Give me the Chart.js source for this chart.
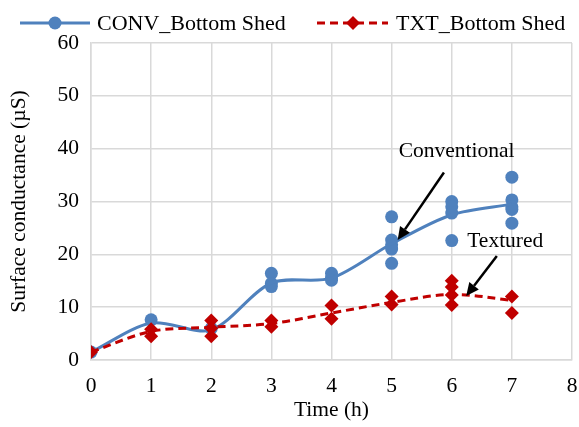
<!DOCTYPE html>
<html>
<head>
<meta charset="utf-8">
<script src="https://cdn.jsdelivr.net/npm/chart.js@4/dist/chart.umd.min.js"></script>
<style>
  html, body { margin: 0; padding: 0; background: #fff; }
  #wrap { width: 579px; height: 427px; }
</style>
</head>
<body>
<div id="wrap"><canvas id="c" width="579" height="427"></canvas></div>
<script>
// Exposure time (h)
const hours = [0, 1, 2, 3, 4, 5, 6, 7];
// Trend line values (µS)
const convMean = [1.5, 7.0, 5.7, 14.6, 15.5, 22.0, 27.5, 29.5];
const txtMean  = [1.5, 5.4, 6.2, 6.9, 8.9, 10.9, 12.4, 11.3];
// Individual measurements per hour (µS)
const convSamples = [
  [1.5],
  [7.6],
  [6.0],
  [16.4, 14.5, 13.9],
  [16.4, 15.5, 15.1],
  [27.1, 22.7, 21.8, 21.0, 18.3],
  [30.0, 29.0, 27.8, 22.6],
  [34.6, 30.3, 29.0, 28.5, 25.9]
];
const txtSamples = [
  [1.5],
  [5.8, 4.5],
  [7.5, 6.0, 4.5],
  [7.5, 6.3],
  [10.3, 7.8],
  [12.0, 10.5],
  [15.0, 13.8, 12.3, 10.4],
  [12.0, 8.9]
];
const xTicks = [0, 1, 2, 3, 4, 5, 6, 7, 8];
const yTicks = [0, 10, 20, 30, 40, 50, 60];
const seriesNames = ['CONV_Bottom Shed', 'TXT_Bottom Shed'];

const BLUE = '#4f81bd';
const RED = '#c00000';
const GRID = '#d9d9d9';
const FONT = '"Liberation Serif", "Times New Roman", serif';
const FS = 21.5;

function toPoints(xs, ys) { return xs.map((x, i) => ({ x: x, y: ys[i] })); }
function flatten(xs, groups) {
  const out = [];
  groups.forEach((g, i) => g.forEach(v => out.push({ x: xs[i], y: v })));
  return out;
}

// Legend drawn with line + marker samples
const legendPlugin = {
  id: 'lineLegend',
  afterDraw(chart) {
    const ctx = chart.ctx;
    const y = 23;
    ctx.save();
    // blue entry
    ctx.strokeStyle = BLUE; ctx.lineWidth = 3; ctx.setLineDash([]);
    ctx.beginPath(); ctx.moveTo(20, y); ctx.lineTo(90, y); ctx.stroke();
    ctx.fillStyle = BLUE;
    ctx.beginPath(); ctx.arc(55, y, 6.5, 0, Math.PI * 2); ctx.fill();
    // red entry
    ctx.strokeStyle = RED; ctx.setLineDash([8, 5]);
    ctx.beginPath(); ctx.moveTo(317, y); ctx.lineTo(388, y); ctx.stroke();
    ctx.setLineDash([]);
    ctx.fillStyle = RED;
    ctx.beginPath();
    ctx.moveTo(353, y - 7); ctx.lineTo(360, y); ctx.lineTo(353, y + 7); ctx.lineTo(346, y);
    ctx.closePath(); ctx.fill();
    ctx.fillStyle = '#000';
    ctx.font = '22px ' + FONT;
    ctx.textBaseline = 'middle';
    ctx.textAlign = 'left';
    ctx.fillText(seriesNames[0], 97, y + 1);
    ctx.fillText(seriesNames[1], 396, y + 1);
    ctx.restore();
  }
};

// Callout labels with arrows, placed in data coordinates
const callouts = [
  { text: 'Conventional', tx: 6.08, ty: 39.4, from: [5.87, 35.5], to: [5.10, 22.7] },
  { text: 'Textured',     tx: 6.89, ty: 22.4, from: [6.75, 19.7], to: [6.24, 12.1] }
];
const calloutPlugin = {
  id: 'callouts',
  afterDatasetsDraw(chart) {
    const ctx = chart.ctx, xs = chart.scales.x, ys = chart.scales.y;
    ctx.save();
    callouts.forEach(c => {
      ctx.fillStyle = '#000';
      ctx.font = FS + 'px ' + FONT;
      ctx.textAlign = 'center';
      ctx.textBaseline = 'middle';
      ctx.fillText(c.text, xs.getPixelForValue(c.tx), ys.getPixelForValue(c.ty));
      const x1 = xs.getPixelForValue(c.from[0]), y1 = ys.getPixelForValue(c.from[1]);
      const x2 = xs.getPixelForValue(c.to[0]), y2 = ys.getPixelForValue(c.to[1]);
      const ang = Math.atan2(y2 - y1, x2 - x1);
      const hl = 13, hw = 6;
      const bx = x2 - hl * Math.cos(ang), by = y2 - hl * Math.sin(ang);
      ctx.strokeStyle = '#000'; ctx.lineWidth = 2.5;
      ctx.beginPath(); ctx.moveTo(x1, y1); ctx.lineTo(bx, by); ctx.stroke();
      ctx.beginPath();
      ctx.moveTo(x2, y2);
      ctx.lineTo(bx + hw * Math.sin(ang), by - hw * Math.cos(ang));
      ctx.lineTo(bx - hw * Math.sin(ang), by + hw * Math.cos(ang));
      ctx.closePath(); ctx.fill();
    });
    ctx.restore();
  }
};

new Chart(document.getElementById('c'), {
  type: 'line',
  data: {
    datasets: [
      { label: seriesNames[1] + ' pts', type: 'scatter', data: flatten(hours, txtSamples),
        pointStyle: 'rectRot', pointRadius: 7, pointBackgroundColor: RED, pointBorderColor: RED,
        pointBorderWidth: 0, showLine: false, order: 0 },
      { label: seriesNames[1], data: toPoints(hours, txtMean), borderColor: RED, borderWidth: 3,
        borderDash: [8, 5], pointRadius: 0, tension: 0.35, fill: false, order: 1 },
      { label: seriesNames[0] + ' pts', type: 'scatter', data: flatten(hours, convSamples),
        pointStyle: 'circle', pointRadius: 6.5, pointBackgroundColor: BLUE, pointBorderColor: BLUE,
        pointBorderWidth: 0, showLine: false, order: 3 },
      { label: seriesNames[0], data: toPoints(hours, convMean), borderColor: BLUE, borderWidth: 3,
        pointRadius: 0, tension: 0.3, fill: false, order: 2 }
    ]
  },
  options: {
    responsive: false,
    animation: false,
    layout: { padding: { left: 0, right: 7, top: 43, bottom: 0 } },
    plugins: { legend: { display: false }, tooltip: { enabled: false } },
    scales: {
      x: {
        type: 'linear', min: 0, max: 8,
        afterBuildTicks(s) { s.ticks = xTicks.map(v => ({ value: v })); },
        afterFit(s) { s.height = 67; s.paddingLeft = 0; s.paddingRight = 0; },
        grid: { color: GRID, lineWidth: 1.5, drawTicks: false },
        border: { color: GRID, width: 1.5 },
        ticks: { color: '#000', padding: 13, font: { family: FONT, size: FS } },
        title: { display: true, text: 'Time (h)', color: '#000', padding: { top: 2 },
                 font: { family: FONT, size: FS } }
      },
      y: {
        type: 'linear', min: 0, max: 60,
        afterBuildTicks(s) { s.ticks = yTicks.map(v => ({ value: v })); },
        afterFit(s) { s.width = 91; s.paddingTop = 0; s.paddingBottom = 0; },
        grid: { color: GRID, lineWidth: 1.5, drawTicks: false },
        border: { color: GRID, width: 1.5 },
        ticks: { color: '#000', padding: 12, font: { family: FONT, size: FS } },
        title: { display: true, text: 'Surface conductance (µS)', color: '#000', padding: { top: 6, bottom: 4 },
                 font: { family: FONT, size: FS } }
      }
    }
  },
  plugins: [legendPlugin, calloutPlugin]
});
</script>
</body>
</html>
